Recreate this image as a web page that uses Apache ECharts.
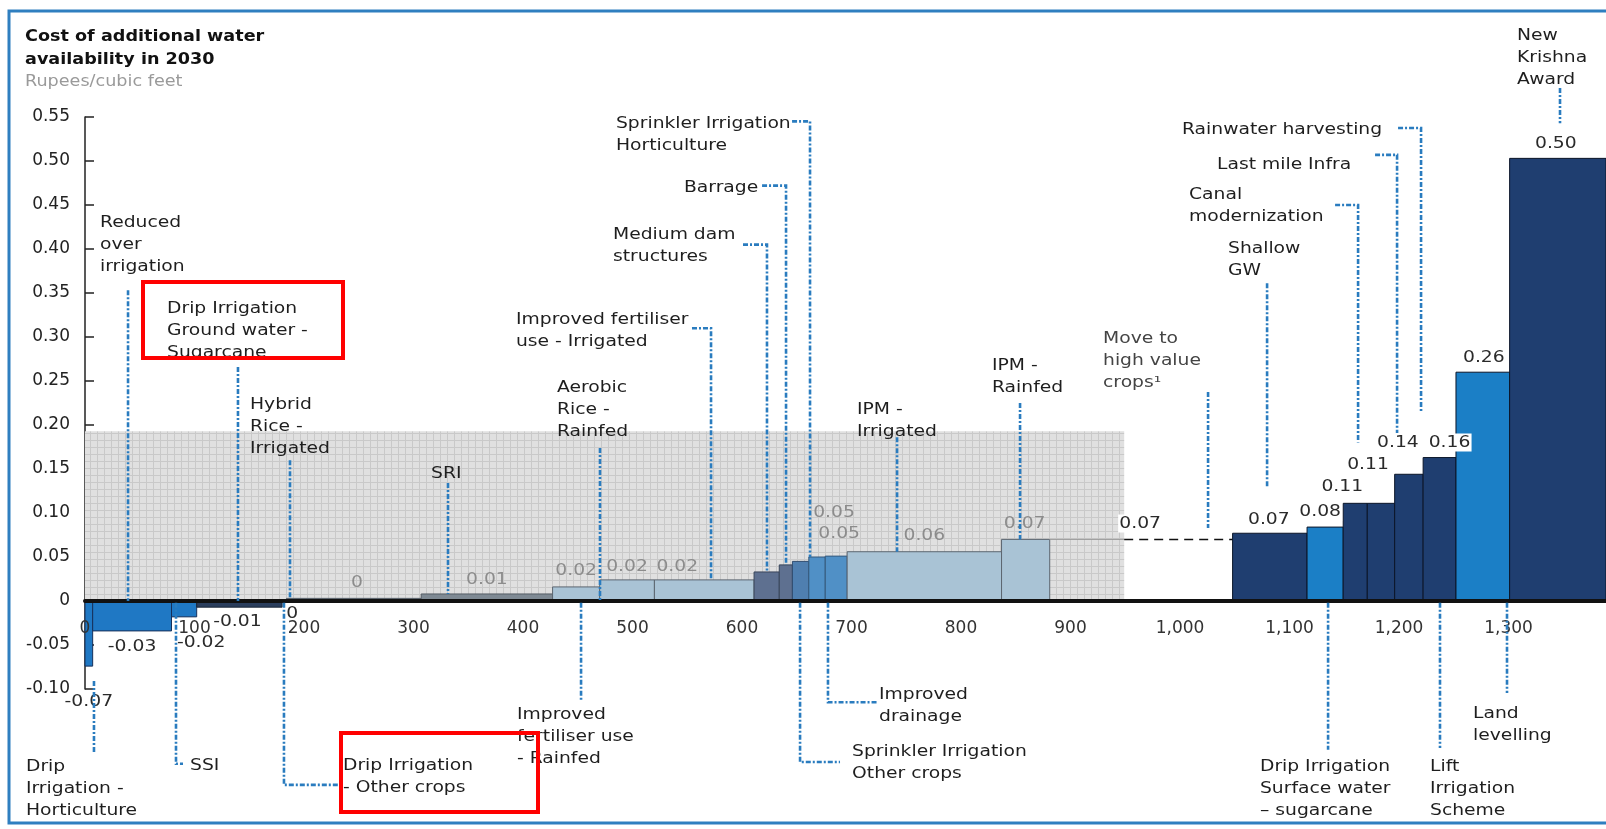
<!DOCTYPE html>
<html>
<head>
<meta charset="utf-8">
<title>Cost of additional water availability in 2030</title>
<script src="https://cdn.jsdelivr.net/npm/echarts@6/dist/echarts.min.js"></script>
<style>
html, body { margin: 0; padding: 0; background: #fff; }
#chart { width: 1606px; height: 829px; }
</style>
</head>
<body>
<div id="chart"></div>
<script>
// water measures, left to right along the cost curve
const measures = [
    'Drip Irrigation - Horticulture', 'Reduced over irrigation', 'SSI',
    'Drip Irrigation Ground water - Sugarcane', 'Drip Irrigation - Other crops',
    'Hybrid Rice - Irrigated', 'SRI', 'Improved fertiliser use - Rainfed',
    'Aerobic Rice - Rainfed', 'Improved fertiliser use - Irrigated',
    'Medium dam structures', 'Barrage', 'Sprinkler Irrigation Other crops',
    'Sprinkler Irrigation Horticulture', 'Improved drainage', 'IPM - Irrigated',
    'IPM - Rainfed', 'Move to high value crops', 'Shallow GW',
    'Drip Irrigation Surface water - sugarcane', 'Canal modernization',
    'Last mile Infra', 'Rainwater harvesting', 'Lift Irrigation Scheme',
    'Land levelling', 'New Krishna Award'
];
// width of each bar on the x axis (additional water)
const volumes = [7, 72, 23, 78, 4, 123, 120, 43, 50, 91, 23, 12, 15, 15, 20, 141, 44, 167, 68, 33, 22, 25, 26, 30, 49, 88];
// height of each bar (Rupees/cubic feet)
const costs = [-0.074, -0.034, -0.018, -0.007, -0.001, 0.003, 0.008, 0.016, 0.024, 0.024,
    0.033, 0.041, 0.045, 0.050, 0.051, 0.056, 0.070, 0.070, 0.077, 0.084,
    0.111, 0.111, 0.144, 0.163, 0.260, 0.503];
const costLabels = ['-0.07', '-0.03', '-0.02', '-0.01', '0', '0', '0.01', '0.02', '0.02', '0.02',
    '', '', '', '0.05', '0.05', '0.06', '0.07', '0.07', '0.07', '0.08',
    '0.11', '0.11', '0.14', '0.16', '0.26', '0.50'];
const barKinds = ['neg', 'neg', 'neg', 'dark', 'dark', 'grey', 'grey', 'pale', 'pale', 'pale',
    'slate', 'slate', 'mid', 'mid2', 'mid2', 'pale', 'pale', 'none', 'navy', 'blue',
    'navy', 'navy', 'navy', 'navy', 'blue', 'navy'];
// small pixel nudges so value labels sit where the original put them
const labelNudge = [[0, 22], [0, 2], [17, 12], [-2, 1], [8, -2], [3, -4], [0, -2], [0, -4], [0, -1], [-27, -1],
    [0, 0], [0, 0], [0, 0], [17, -32], [3, -10], [0, -4], [-1, -4], [-1, -4], [-1, -1], [-5, -3],
    [-13, -4], [-13, -26], [-11, -19], [10, -3], [1, -2], [-2, -3]];

const xTicks = [0, 1389, 100];          // min, max, interval
const yTicks = [-0.10, 0.55, 0.05];
const shadeArea = [0, 949, 0.193];      // x0, x1, top of grey zone

// annotation callouts: text, text anchor (left, first line centre), leader path - all in data units
const annoText = [
    'Reduced\nover\nirrigation', 'Drip Irrigation\nGround water -\nSugarcane', 'Hybrid\nRice -\nIrrigated',
    'SRI', 'Aerobic\nRice -\nRainfed', 'Improved fertiliser\nuse - Irrigated', 'Medium dam\nstructures',
    'Barrage', 'Sprinkler Irrigation\nHorticulture', 'IPM -\nIrrigated', 'IPM -\nRainfed',
    'Move to\nhigh value\ncrops\u00b9', 'Shallow\nGW', 'Canal\nmodernization', 'Last mile Infra',
    'Rainwater harvesting', 'New\nKrishna\nAward', 'Drip\nIrrigation -\nHorticulture', 'SSI',
    'Drip Irrigation\n- Other crops', 'Improved\nfertiliser use\n- Rainfed', 'Sprinkler Irrigation\nOther crops',
    'Improved\ndrainage', 'Drip Irrigation\nSurface water\n\u2013 sugarcane', 'Lift\nIrrigation\nScheme', 'Land\nlevelling'
];
const annoAt = [
    [13.7, 0.432], [74.9, 0.334], [150.7, 0.225], [316, 0.147], [431, 0.245], [393.6, 0.322], [482.2, 0.418],
    [547, 0.472], [484.9, 0.545], [705, 0.220], [828.3, 0.270], [929.7, 0.300], [1043.8, 0.402],
    [1008.2, 0.464], [1033.8, 0.498], [1001.8, 0.5375], [1307.8, 0.645], [-53.9, -0.186], [95.9, -0.185],
    [235.6, -0.185], [394.5, -0.127], [700.5, -0.169], [725.1, -0.1045], [1073, -0.186], [1228.3, -0.186],
    [1267.6, -0.126]
];
const annoPath = [
    [[39.3, 0.353], [39.3, 0]],
    [[139.7, 0.266], [139.7, 0]],
    [[187.2, 0.160], [187.2, 0.003]],
    [[331.5, 0.134], [331.5, 0.008]],
    [[470.3, 0.174], [470.3, 0]],
    [[554.3, 0.310], [571.7, 0.310], [571.7, 0.024]],
    [[600.9, 0.405], [622.8, 0.405], [622.8, 0.033]],
    [[618.3, 0.472], [640.2, 0.472], [640.2, 0.041]],
    [[645.7, 0.545], [662.1, 0.545], [662.1, 0.05]],
    [[741.6, 0.186], [741.6, 0.056]],
    [[853.9, 0.225], [853.9, 0.070]],
    [[1025.6, 0.2375], [1025.6, 0.083]],
    [[1079.5, 0.361], [1079.5, 0.128]],
    [[1141.6, 0.45], [1162.6, 0.45], [1162.6, 0.18]],
    [[1178.1, 0.507], [1198.2, 0.507], [1198.2, 0.191]],
    [[1199.1, 0.5375], [1220.1, 0.5375], [1220.1, 0.214]],
    [[1347, 0.583], [1347, 0.543]],
    [[8.2, -0.091], [8.2, -0.173]],
    [[83.1, -0.002], [83.1, -0.185], [89.5, -0.185]],
    [[181.7, -0.002], [181.7, -0.209], [231.1, -0.209]],
    [[453, -0.002], [453, -0.1125]],
    [[653, -0.002], [653, -0.183], [689.5, -0.183]],
    [[678.5, -0.002], [678.5, -0.115], [724.2, -0.115]],
    [[1135.2, -0.002], [1135.2, -0.169]],
    [[1237.4, -0.002], [1237.4, -0.167]],
    [[1298.6, -0.002], [1298.6, -0.1045]]
];

const FONT = '"DejaVu Sans", "Liberation Sans", Arial, sans-serif';
const STRETCH = 1.17;   // the original lettering is noticeably wide
const kindStyle = {
    neg:   { fill: '#1f78c4', stroke: '#16305a' },
    dark:  { fill: '#2a3d5c', stroke: '#1a2638' },
    grey:  { fill: '#7f8a94', stroke: '#555d66' },
    pale:  { fill: '#a9c3d5', stroke: '#5c6670' },
    slate: { fill: '#5e7090', stroke: '#39455a' },
    mid:   { fill: '#4f7fb0', stroke: '#2f4d70' },
    mid2:  { fill: '#5090c6', stroke: '#34597c' },
    navy:  { fill: '#1f3e70', stroke: '#0b1528' },
    blue:  { fill: '#1b7fc6', stroke: '#0b1528' }
};

// cumulative positions
const starts = [];
const ends = [];
let acc = 0;
volumes.forEach(v => { starts.push(acc); acc += v; ends.push(acc); });

const tile = document.createElement('canvas');
tile.width = 7; tile.height = 7;
const tg = tile.getContext('2d');
tg.fillStyle = '#e0e0e0'; tg.fillRect(0, 0, 7, 7);
tg.fillStyle = '#c9c9c9'; tg.fillRect(6, 0, 1, 7); tg.fillRect(0, 6, 7, 1);

const gridBox = { left: 85, top: 117, width: 1521, height: 572 };
// pixel distance from the bottom of the grid up to the zero line
const zeroLift = gridBox.height * (0 - yTicks[0]) / (yTicks[1] - yTicks[0]);

const chart = echarts.init(document.getElementById('chart'));

const renderShade = (params, api) => {
    const a = api.coord([shadeArea[0], shadeArea[2]]);
    const b = api.coord([shadeArea[1], 0]);
    return {
        type: 'rect',
        shape: { x: a[0], y: a[1], width: b[0] - a[0], height: b[1] - a[1] },
        style: { fill: { image: tile, repeat: 'repeat' } }
    };
};

const renderBar = (params, api) => {
    const i = params.dataIndex;
    const x0 = api.value(0), x1 = api.value(1), v = api.value(2);
    const p0 = api.coord([x0, Math.max(v, 0)]);
    const p1 = api.coord([x1, Math.min(v, 0)]);
    const kind = barKinds[i];
    if (kind === 'none') {
        const mid = api.coord([Math.min(shadeArea[1], x1), v]);
        return {
            type: 'group',
            children: [
                { type: 'line', shape: { x1: p0[0], y1: p0[1], x2: mid[0], y2: p0[1] },
                  style: { stroke: '#9a9a9a', lineWidth: 1 } },
                { type: 'line', shape: { x1: mid[0], y1: p0[1], x2: p1[0], y2: p0[1] },
                  style: { stroke: '#111', lineWidth: 1.5, lineDash: [9, 6] } }
            ]
        };
    }
    const st = kindStyle[kind];
    return {
        type: 'rect',
        shape: { x: p0[0], y: p0[1], width: p1[0] - p0[0], height: Math.max(p1[1] - p0[1], 1) },
        style: { fill: st.fill, stroke: st.stroke, lineWidth: 1 }
    };
};

const renderValue = (params, api) => {
    const i = params.dataIndex;
    if (!costLabels[i]) return null;
    const x0 = api.value(0), x1 = api.value(1), v = api.value(2);
    const p0 = api.coord([x0, Math.max(v, 0)]);
    const p1 = api.coord([x1, Math.min(v, 0)]);
    const cx = (p0[0] + p1[0]) / 2 + labelNudge[i][0];
    const cy = (v < 0 ? p1[1] + 14 : p0[1] - 12) + labelNudge[i][1];
    const grey = v > 0 && x1 <= shadeArea[1];
    const style = {
        text: costLabels[i], font: '16px ' + FONT, fill: grey ? '#8c8c8c' : '#2a2a2a',
        align: 'center', verticalAlign: 'middle', textAlign: 'center', textVerticalAlign: 'middle'
    };
    if (v > 0 && !grey) {
        style.backgroundColor = '#ffffff';
        style.padding = [1, 1];
    }
    return { type: 'text', x: cx, y: cy, scaleX: STRETCH, style };
};

const renderAnno = (params, api) => {
    const i = params.dataIndex;
    const pts = annoPath[i].map(p => api.coord(p));
    const at = api.coord(annoAt[i]);
    return {
        type: 'group',
        children: [
            { type: 'polyline', shape: { points: pts },
              style: { stroke: '#2a7cbf', lineWidth: 2.6, lineDash: [5, 2, 2, 2], fill: null } },
            { type: 'text', x: at[0], y: at[1] - 9, scaleX: STRETCH,
              style: { text: annoText[i], font: '16px ' + FONT, fill: i === 11 ? '#444' : '#1e1e1e',
                  lineHeight: 22, align: 'left', verticalAlign: 'top', textAlign: 'left', textVerticalAlign: 'top' } }
        ]
    };
};

const barData = costs.map((c, i) => [starts[i], ends[i], c, measures[i]]);

const option = {
    animation: false,
    backgroundColor: '#ffffff',
    grid: gridBox,
    xAxis: {
        type: 'value', min: xTicks[0], max: xTicks[1], interval: xTicks[2],
        offset: -zeroLift,
        z: 4,
        axisLine: { onZero: false, lineStyle: { color: '#111', width: 4 } },
        axisTick: { show: false },
        splitLine: { show: false },
        axisLabel: {
            showMaxLabel: false, margin: 19, fontFamily: FONT, fontSize: 17, color: '#333',
            formatter: v => v.toLocaleString('en-US')
        }
    },
    yAxis: {
        type: 'value', min: yTicks[0], max: yTicks[1], interval: yTicks[2],
        axisLine: { show: true, onZero: false, lineStyle: { color: '#222', width: 1.5 } },
        axisTick: { show: true, inside: true, length: 9, lineStyle: { color: '#222', width: 1.5 } },
        splitLine: { show: false },
        axisLabel: {
            margin: 15, fontFamily: FONT, fontSize: 17, color: '#222',
            formatter: v => Math.abs(v) < 1e-9 ? '0' : v.toFixed(2)
        }
    },
    series: [
        { type: 'custom', z: 1, silent: true, clip: false, renderItem: renderShade, data: [[shadeArea[0], 0]] },
        { type: 'custom', z: 3, clip: false, renderItem: renderBar, encode: { x: [0, 1], y: 2 }, data: barData },
        { type: 'custom', z: 5, clip: false, silent: true, renderItem: renderValue, encode: { x: [0, 1], y: 2 }, data: barData },
        {
            type: 'custom', z: 6, clip: false, silent: true, renderItem: renderAnno,
            encode: { x: 0, y: 1 },
            data: annoAt.map(p => [p[0], p[1]])
        }
    ],
    graphic: [
        { type: 'text', x: 25, y: 37, scaleX: 1.1,
          style: { text: 'Cost of additional water', font: 'bold 16px ' + FONT, fill: '#111',
              textAlign: 'left', textVerticalAlign: 'middle' } },
        { type: 'text', x: 25, y: 60, scaleX: 1.1,
          style: { text: 'availability in 2030', font: 'bold 16px ' + FONT, fill: '#111',
              textAlign: 'left', textVerticalAlign: 'middle' } },
        { type: 'text', x: 25, y: 82, scaleX: 1.1,
          style: { text: 'Rupees/cubic feet', font: '16px ' + FONT, fill: '#9a9a9a',
              textAlign: 'left', textVerticalAlign: 'middle' } },
        { type: 'rect', z: 100, shape: { x: 9, y: 11, width: 1600, height: 812 },
          style: { fill: 'none', stroke: '#2f7fc0', lineWidth: 3 } },
        { type: 'rect', z: 100, shape: { x: 143, y: 282, width: 200, height: 76 },
          style: { fill: 'none', stroke: '#ff0000', lineWidth: 4 } },
        { type: 'rect', z: 100, shape: { x: 341, y: 733, width: 197, height: 79 },
          style: { fill: 'none', stroke: '#ff0000', lineWidth: 4 } }
    ]
};

chart.setOption(option);
</script>
</body>
</html>
